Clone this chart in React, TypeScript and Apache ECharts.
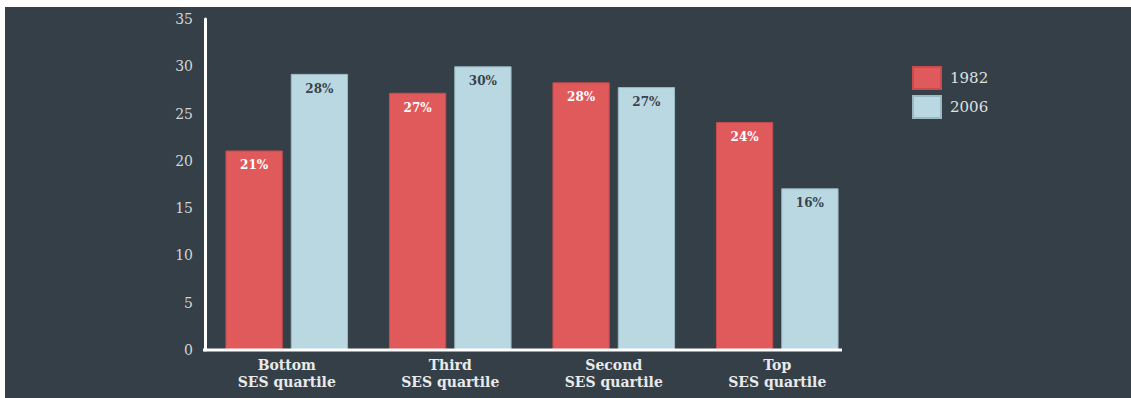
import React, { useEffect, useRef } from "react";
import * as echarts from "echarts";

const categories = ["Bottom\nSES quartile", "Third\nSES quartile", "Second\nSES quartile", "Top\nSES quartile"];
const values1982 = [21.1, 27.2, 28.3, 24.1];
const values2006 = [29.2, 30.0, 27.8, 17.1];
const labels1982 = ["21%", "27%", "28%", "24%"];
const labels2006 = ["28%", "30%", "27%", "16%"];
const seriesNames = ["1982", "2006"];

export default function App() {
  const ref = useRef<HTMLDivElement>(null);
  useEffect(() => {
    if (!ref.current) return;
    const chart = echarts.init(ref.current, null, { renderer: "svg" });
    const serif = "DejaVu Serif";
    chart.setOption({
      animation: false,
      backgroundColor: "#353f47",
      textStyle: { fontFamily: serif },
      legend: {
        orient: "vertical",
        left: 902,
        top: 54,
        itemWidth: 28,
        itemHeight: 22,
        itemGap: 5,
        icon: "rect",
        textStyle: { color: "#dde1e4", fontSize: 15, lineHeight: 18, fontFamily: serif, padding: [0, 0, 0, 4] },
        data: seriesNames,
      },
      grid: { left: 200, right: 272, top: 12, bottom: 48, containLabel: false },
      xAxis: {
        type: "category",
        data: categories,
        axisLine: { show: false },
        axisTick: { show: false },
        axisLabel: {
          color: "#e8eaeb",
          fontFamily: serif,
          fontWeight: "bold",
          fontSize: 14,
          lineHeight: 17,
          margin: 6,
        },
      },
      yAxis: {
        type: "value",
        min: 0,
        max: 35,
        interval: 5,
        splitLine: { show: false },
        axisTick: { show: false },
        axisLine: { show: true, lineStyle: { color: "#ffffff", width: 3 } },
        axisLabel: { color: "#d3d7da", fontSize: 14, fontFamily: serif, margin: 12 },
      },
      graphic: [
        {
          type: "line",
          shape: { x1: 198, y1: 343, x2: 837, y2: 343 },
          style: { stroke: "#ffffff", lineWidth: 3 },
          z: 10,
        },
      ],
      series: [
        {
          name: seriesNames[0],
          type: "bar",
          data: values1982,
          barGap: "14%",
          barCategoryGap: "25%",
          itemStyle: { color: "#e0595b", borderColor: "#c94b4e", borderWidth: 1 },
          label: {
            show: true,
            position: "insideTop",
            distance: 9,
            color: "#ffffff",
            fontFamily: serif,
            fontWeight: "bold",
            fontSize: 12,
            formatter: (p: any) => labels1982[p.dataIndex],
          },
        },
        {
          name: seriesNames[1],
          type: "bar",
          data: values2006,
          barGap: "14%",
          barCategoryGap: "25%",
          itemStyle: { color: "#b9d8e2", borderColor: "#9bb8c3", borderWidth: 1 },
          label: {
            show: true,
            position: "insideTop",
            distance: 9,
            color: "#3a434b",
            fontFamily: serif,
            fontWeight: "bold",
            fontSize: 12,
            formatter: (p: any) => labels2006[p.dataIndex],
          },
        },
      ],
    });
    return () => chart.dispose();
  }, []);
  return (
    <div style={{ position: "absolute", left: 0, top: 0, width: 1131, height: 398, background: "#ffffff" }}>
      <div ref={ref} style={{ position: "absolute", left: 5, top: 7, width: 1126, height: 391 }} />
    </div>
  );
}
